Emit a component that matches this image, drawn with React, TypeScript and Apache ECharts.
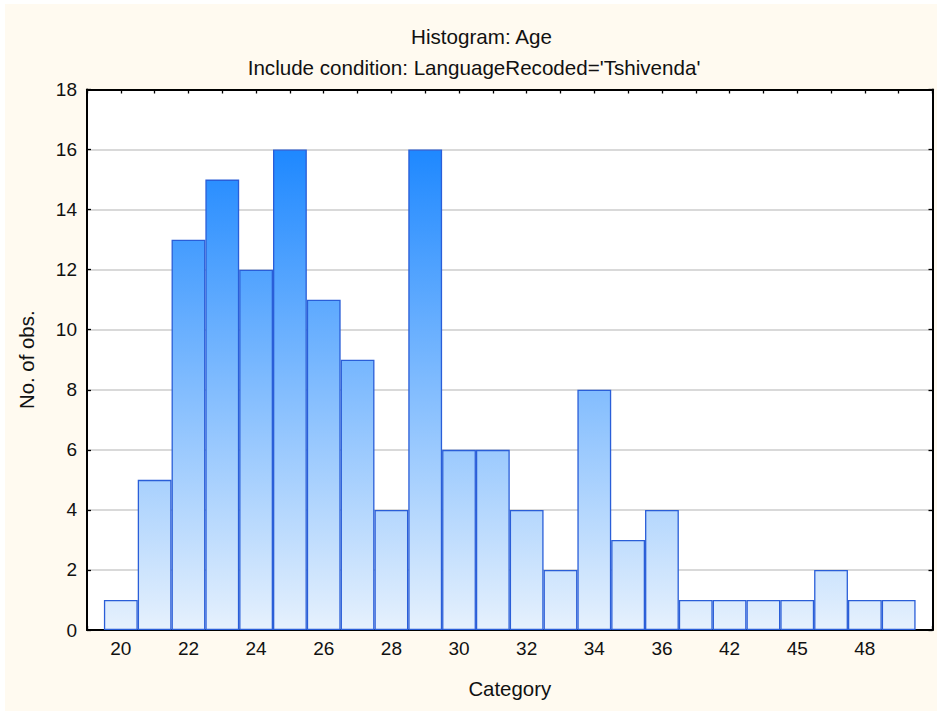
import React, { useEffect, useRef } from "react";
import * as echarts from "echarts";

const categories: string[] = [
  "20", "21", "22", "23", "24", "25", "26", "27", "28", "29", "30", "31",
  "32", "33", "34", "35", "36", "40", "42", "44", "45", "46", "48", "50",
];
const counts: number[] = [
  1, 5, 13, 15, 12, 16, 11, 9, 4, 16, 6, 6,
  4, 2, 8, 3, 4, 1, 1, 1, 1, 2, 1, 1,
];
const yTicks = { min: 0, max: 18, interval: 2 };
const titleText = "Histogram: Age";
const subtitleText = "Include condition: LanguageRecoded='Tshivenda'";
const xName = "Category";
const yName = "No. of obs.";

const W = 932;
const H = 707;
const GRID = { left: 82, right: 4.5, top: 85.5, bottom: 81 };
const FONT = "'Liberation Sans', Arial, sans-serif";

export default function App() {
  const ref = useRef<HTMLDivElement>(null);
  useEffect(() => {
    if (!ref.current) return;
    const chart = echarts.init(ref.current, undefined, { renderer: "svg" });
    const plotTop = GRID.top;
    const plotBottom = H - GRID.bottom;
    const fill = new echarts.graphic.LinearGradient(
      0, plotTop, 0, plotBottom,
      [
        { offset: 0, color: "#0E7CFF" },
        { offset: 0.12, color: "#2089FF" },
        { offset: 1, color: "#E6F1FD" },
      ],
      true
    );
    const labelFmt = (v: number) =>
      v >= 0 && v < categories.length && v % 2 === 0 ? categories[v] : "";
    const xCommon = {
      type: "value" as const,
      min: -1,
      max: categories.length,
      interval: 1,
      axisLine: { show: true, onZero: false, lineStyle: { color: "#000", width: 2 } },
      axisTick: { show: true, inside: true, length: 4, lineStyle: { color: "#000", width: 1.3 } },
      splitLine: { show: false },
    };
    const yCommon = {
      type: "value" as const,
      min: yTicks.min,
      max: yTicks.max,
      interval: yTicks.interval,
      axisLine: { show: true, onZero: false, lineStyle: { color: "#000", width: 2 } },
      axisTick: { show: true, inside: true, length: 4, lineStyle: { color: "#000", width: 1.3 } },
    };
    chart.setOption({
      animation: false,
      backgroundColor: "#FFFAF0",
      textStyle: { fontFamily: FONT },
      title: [
        {
          text: titleText,
          left: 471.5,
          top: 16.5,
          textAlign: "center",
          textStyle: { fontFamily: FONT, fontSize: 20.6, fontWeight: "normal", color: "#111" },
        },
        {
          text: subtitleText,
          left: 464,
          top: 48,
          textAlign: "center",
          textStyle: { fontFamily: FONT, fontSize: 20.6, fontWeight: "normal", color: "#111" },
        },
      ],
      grid: { ...GRID, show: true, backgroundColor: "#FFFFFF", borderWidth: 0 },
      xAxis: [
        {
          ...xCommon,
          position: "bottom",
          name: xName,
          nameLocation: "middle",
          nameGap: 49,
          nameTextStyle: { fontFamily: FONT, fontSize: 20.4, color: "#111" },
          axisLabel: {
            show: true,
            margin: 9,
            fontFamily: FONT,
            fontSize: 19,
            color: "#111",
            formatter: labelFmt,
            showMinLabel: true,
            showMaxLabel: true,
          },
        },
        {
          ...xCommon,
          position: "top",
          axisLabel: { show: false },
        },
      ],
      yAxis: [
        {
          ...yCommon,
          position: "left",
          name: yName,
          nameLocation: "middle",
          nameRotate: 90,
          nameGap: 50,
          nameTextStyle: { fontFamily: FONT, fontSize: 20.4, color: "#111" },
          axisLabel: { show: true, margin: 10, fontFamily: FONT, fontSize: 19, color: "#111" },
          splitLine: { show: true, lineStyle: { color: "#D9D9D9", width: 2 } },
        },
        {
          ...yCommon,
          position: "right",
          axisLabel: { show: false },
          splitLine: { show: false },
        },
      ],
      series: [
        {
          type: "bar",
          xAxisIndex: 0,
          yAxisIndex: 0,
          data: counts.map((c, i) => [i, c]),
          barWidth: "100%",
          barCategoryGap: "0%",
          itemStyle: { color: fill, borderColor: "#2A5ED8", borderWidth: 1.3 },
          emphasis: { disabled: true },
        },
      ],
    });
    return () => chart.dispose();
  }, []);
  return (
    <div
      ref={ref}
      style={{ position: "fixed", left: 5, top: 4, width: W, height: H }}
    />
  );
}
